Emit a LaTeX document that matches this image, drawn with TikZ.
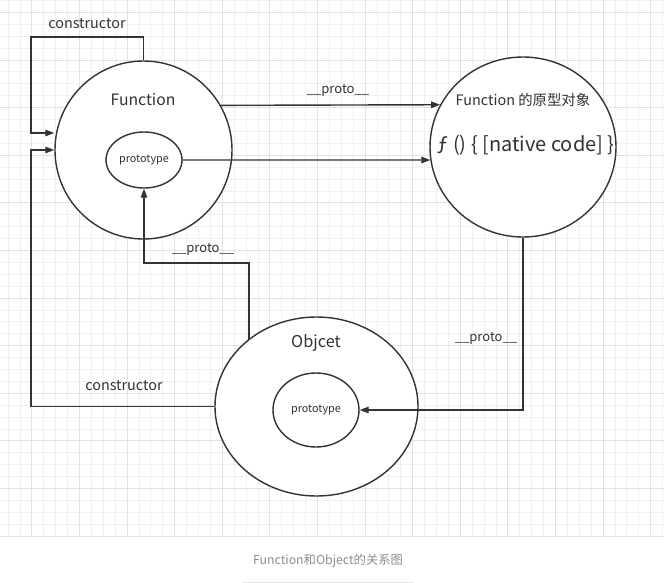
\documentclass[tikz,border=0pt]{standalone}
\usepackage{fontspec}
\setmainfont{Noto Sans CJK SC}
\usetikzlibrary{shapes.geometric,arrows.meta}
\definecolor{ink}{HTML}{333333}
\definecolor{gridminor}{HTML}{F0F0F0}
\definecolor{gridmajor}{HTML}{E2E2E2}
\tikzset{
  ring/.style={draw=ink, line width=1.4pt, ellipse, inner sep=0pt, fill=white},
  txt/.style={text=ink, inner sep=0pt, font=\fontsize{13}{15}\selectfont},
  link/.style={draw=ink, line width=1.4pt, -{Triangle[length=9pt,width=6.5pt]}},
}
\begin{document}
\begin{tikzpicture}[x=1pt, y=-1pt]
\useasboundingbox (0,0) rectangle (664,583);
% background grid
\foreach \i in {0,...,55}
  \draw[gridminor, line width=0.6pt] (7.9+\i*11.9, 0) -- (7.9+\i*11.9, 536.7);
\foreach \i in {0,...,45}
  \draw[gridminor, line width=0.6pt] (0, 0.4+\i*11.9) -- (664, 0.4+\i*11.9);
\foreach \i in {0,...,13}
  \draw[gridmajor, line width=0.7pt] (31.7+\i*47.6, 0) -- (31.7+\i*47.6, 536.7);
\foreach \i in {0,...,11}
  \draw[gridmajor, line width=0.7pt] (0, 12.3+\i*47.6) -- (664, 12.3+\i*47.6);

% circles
\node[ring, minimum width=177pt, minimum height=178pt] (fn) at (143.5,150) {};
\node[ring, minimum width=186pt, minimum height=180pt] (fp) at (523,147) {};
\node[ring, minimum width=203pt, minimum height=179pt] (obj) at (316.5,406.5) {};
\node[ring, minimum width=76pt, minimum height=56pt, text=ink,
      font=\fontsize{10.8}{12}\selectfont] (fnproto) at (144,160) {prototype};
\node[ring, minimum width=86pt, minimum height=74pt, text=ink,
      font=\fontsize{10.8}{12}\selectfont] (objproto) at (316,410) {prototype};

% titles
\node[txt, font=\fontsize{15.7}{18}\selectfont] (fntitle) at (143,100) {Function};
\node[txt, font=\fontsize{14.4}{17}\selectfont] (fptitle) at (523,100) {Function 的原型对象};
\node[txt, font=\fontsize{20}{23}\selectfont] (native) at (526,145) {ƒ () \{ [native code] \}};
\node[txt, font=\fontsize{16.3}{19}\selectfont] (objtitle) at (316,343) {Objcet};

% constructor links
\coordinate (c1) at (31,37);
\coordinate (c2) at (31,406.5);
\draw[link] (fn.north) -- (fn.north |- c1) -- (c1) |- ([yshift=17pt]fn.west);
\draw[link] (obj.west) -- (c2) |- (fn.west);
\node[txt, font=\fontsize{14.4}{17}\selectfont] (lcons1) at (87,24) {constructor};
\node[txt, font=\fontsize{14.4}{17}\selectfont] (lcons2) at (124,386) {constructor};

% proto links
\coordinate (c3) at (0,263);
\draw[link] (fn.30) -- (fp.153);
\draw[link] (fnproto.east) -- (fp.188);
\draw[link] (fp.south) |- (objproto.east);
\draw[link] (obj.135) -- (obj.135 |- c3) -| (fnproto.south);
\node[txt] (lproto1) at (338,90) {\_\_proto\_\_};
\node[txt] (lproto2) at (486,338) {\_\_proto\_\_};
\node[txt] (lproto3) at (203,249) {\_\_proto\_\_};

% caption
\node[txt, text=black!45, font=\fontsize{12.3}{14}\selectfont] (caption) at (328,560.5) {Function和Object的关系图};
\draw[gridmajor, line width=0.8pt] (243,582) -- (413,582);
\end{tikzpicture}
\end{document}
